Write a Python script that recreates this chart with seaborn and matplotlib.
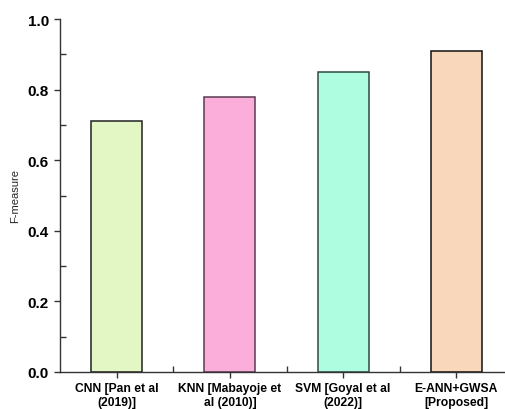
import matplotlib
matplotlib.use("Agg")
import matplotlib.pyplot as plt
import seaborn as sns
import pandas as pd
from matplotlib.ticker import MultipleLocator, FixedLocator

methods = ["CNN [Pan et al\n(2019)]", "KNN [Mabayoje et\nal (2010)]",
           "SVM [Goyal et al\n(2022)]", "E-ANN+GWSA\n[Proposed]"]
f_measure = [0.71, 0.78, 0.85, 0.91]
bar_colors = ["#E2F7C3", "#FBAEDA", "#AEFDE1", "#F9D7BB"]
edge_colors = ["#222222", "#5a3a50", "#2f4a40", "#111111"]

df = pd.DataFrame({"method": methods, "F-measure": f_measure})

sns.set_style("white")
plt.rcParams["font.family"] = ["Liberation Sans", "DejaVu Sans"]
plt.rcParams["text.color"] = "black"
plt.rcParams["xtick.color"] = "#333333"
plt.rcParams["ytick.color"] = "#333333"
plt.rcParams["xtick.labelcolor"] = "black"
plt.rcParams["ytick.labelcolor"] = "black"

fig = plt.figure(figsize=(5.05, 4.10), dpi=100)
ax = fig.add_axes([60 / 505, 37 / 410, 453 / 505, 353 / 410])

sns.barplot(data=df, x="method", y="F-measure", hue="method",
            palette=bar_colors, width=0.45, legend=False, ax=ax,
            saturation=1)
for patch, ec in zip(ax.patches, edge_colors):
    patch.set_edgecolor(ec)
    patch.set_linewidth(1.1)

ax.set_xlim(-0.5, 3.5)
ax.set_ylim(0, 1.0)
ax.yaxis.set_major_locator(MultipleLocator(0.2))
ax.yaxis.set_minor_locator(MultipleLocator(0.1))
ax.xaxis.set_minor_locator(FixedLocator([0.5, 1.5, 2.5]))

for s in ["top", "right"]:
    ax.spines[s].set_visible(False)
for s in ["left", "bottom"]:
    ax.spines[s].set_color("#333333")
    ax.spines[s].set_linewidth(1.0)

ax.tick_params(axis="both", which="both", bottom=True, left=True,
               top=False, right=False)
ax.tick_params(axis="both", which="major", direction="out", length=4,
               width=1.0, color="#333333")
ax.tick_params(axis="both", which="minor", direction="in", length=4,
               width=1.0, color="#333333")
ax.tick_params(axis="y", which="major", labelsize=11, pad=4)
ax.tick_params(axis="x", which="major", labelsize=8.5, pad=3)
ax.set_yticks([0.0, 0.2, 0.4, 0.6, 0.8, 1.0])
ax.set_yticklabels([f"{v:.1f}" for v in ax.get_yticks()], fontweight="bold")
ax.set_xticks(range(len(methods)))
ax.set_xticklabels(methods, fontweight="bold", fontsize=8.7, linespacing=1.25)

ax.set_xlabel("")
ax.set_ylabel("F-measure", fontsize=8)
ax.yaxis.set_label_coords(-0.088, 0.5)

fig.savefig("out.png", dpi=100)
